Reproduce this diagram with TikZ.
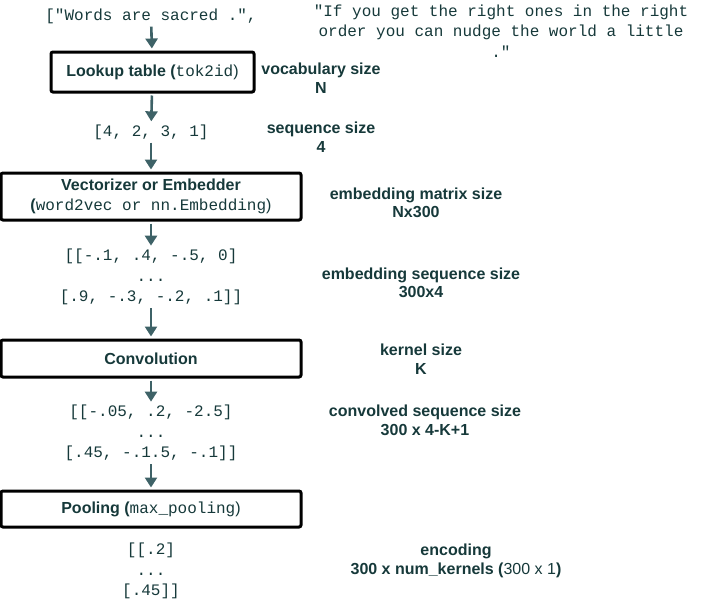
\documentclass[tikz,border=0pt]{standalone}
\usepackage{fontspec}
\setmainfont{Liberation Sans}
\setmonofont{Liberation Mono}
\usepackage{tikz}
\usetikzlibrary{arrows.meta}

\definecolor{inkteal}{RGB}{22,57,58}
\definecolor{arrteal}{RGB}{62,98,103}

\tikzset{
    stage/.style={draw=black, line width=3pt, rounded corners=2pt, inner sep=0pt,
        text=inkteal, font=\fontsize{16}{19.5}\selectfont\bfseries, align=center},
    data/.style={text=inkteal, font=\fontsize{16}{20.7}\ttfamily, align=center, inner sep=1pt},
    info/.style={text=inkteal, font=\fontsize{16}{18.5}\selectfont\bfseries, align=center, inner sep=0pt},
    flow/.style={draw=arrteal, line width=2.6pt, -{Triangle[length=10pt,width=12pt]}, shorten <=2pt, shorten >=2pt}
}

\begin{document}
\begin{tikzpicture}[x=1pt,y=-1pt]
    \useasboundingbox (0,0) rectangle (702,608);

    % input text
    \node[data] (words) at (151,16) {["Words are sacred .",};
    \node[data] (quote) at (501,31) {"If you get the right ones in the right\\order you can nudge the world a little\\."};

    % lookup
    \node[stage, minimum width=203pt, minimum height=40pt] (lookup) at (152.5,72) {Lookup table (\mdseries\texttt{tok2id})};
    \node[info] (vocab) at (321,78) {vocabulary size\\N};
    \node[data] (ids) at (151,132) {[4, 2, 3, 1]};
    \node[info] (seqsize) at (321,137) {sequence size\\4};

    % embedding
    \node[stage, minimum width=300pt, minimum height=47pt] (embed) at (151,196.5) {Vectorizer or Embedder\\(\mdseries\texttt{word2vec or nn.Embedding})};
    \node[info] (embsize) at (416,203) {embedding matrix size\\Nx300};
    \node[data] (vecs) at (151,277) {[[-.1, .4, -.5, 0]\\...\\{}[.9, -.3, -.2, .1]]};
    \node[info] (embseq) at (421,283) {embedding sequence size\\300x4};

    % convolution
    \node[stage, minimum width=300pt, minimum height=37pt] (conv) at (151,358.5) {Convolution};
    \node[info] (kernel) at (421,359) {kernel size\\K};
    \node[data] (convd) at (151,433) {[[-.05, .2, -2.5]\\...\\{}[.45, -.1.5, -.1]]};
    \node[info] (convseq) at (425,420.5) {convolved sequence size\\300 x 4-K+1};

    % pooling
    \node[stage, minimum width=300pt, minimum height=36pt] (pool) at (151,509) {Pooling (\mdseries\texttt{max\_pooling})};
    \node[data] (pooled) at (151,571) {[[.2]\\...\\{}[.45]]};
    \node[info] (enc) at (456,561) {encoding\\300 x num\_kernels (\mdseries 300 x 1\bfseries)};

    \draw[flow] (words) -- (lookup);
    \draw[flow] (lookup) -- (ids);
    \draw[flow] (ids) -- (embed);
    \draw[flow] (embed) -- (vecs);
    \draw[flow] (vecs) -- (conv);
    \draw[flow] (conv) -- (convd);
    \draw[flow] (convd) -- (pool);

\end{tikzpicture}
\end{document}
